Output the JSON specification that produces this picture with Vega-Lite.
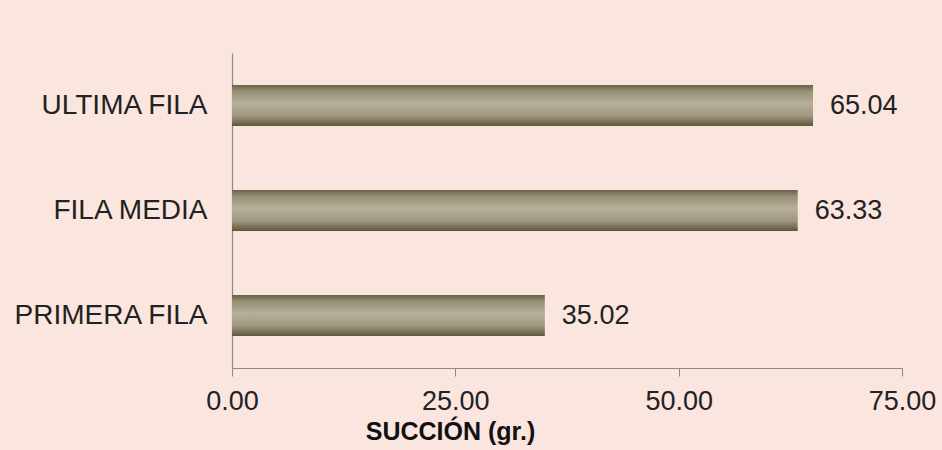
{
  "$schema": "https://vega.github.io/schema/vega-lite/v6.json",
  "width": 670,
  "height": 315,
  "autosize": {"type": "none"},
  "padding": {"left": 232, "top": 53, "right": 40, "bottom": 82},
  "background": "#FBE5DF",
  "config": {
    "view": {"stroke": null},
    "font": "Liberation Sans"
  },
  "data": {
    "values": [
      {"fila": "ULTIMA FILA", "succion": 65.04},
      {"fila": "FILA MEDIA", "succion": 63.33},
      {"fila": "PRIMERA FILA", "succion": 35.02}
    ]
  },
  "encoding": {
    "y": {
      "field": "fila",
      "type": "nominal",
      "sort": ["ULTIMA FILA", "FILA MEDIA", "PRIMERA FILA"],
      "scale": {"paddingInner": 0.61, "paddingOuter": 0.305},
      "axis": {
        "title": null,
        "ticks": false,
        "labelPadding": 25,
        "labelFontSize": 28,
        "labelLimit": 300,
        "labelColor": "#222222",
        "labelFont": "Liberation Sans",
        "domainColor": "#8a8a8a",
        "domainWidth": 1.2
      }
    },
    "x": {
      "field": "succion",
      "type": "quantitative",
      "scale": {"domain": [0, 75], "nice": false},
      "axis": {
        "values": [0, 25, 50, 75],
        "format": ".2f",
        "grid": false,
        "title": "SUCCIÓN (gr.)",
        "titleFontSize": 25,
        "titleFontWeight": "bold",
        "titleColor": "#111111",
        "titleFont": "Liberation Sans",
        "titlePadding": 5,
        "titleX": 218,
        "titleAlign": "center",
        "labelFontSize": 27,
        "labelColor": "#222222",
        "labelFont": "Liberation Sans",
        "labelPadding": 12,
        "tickSize": 8,
        "tickColor": "#8a8a8a",
        "domainColor": "#8a8a8a",
        "domainWidth": 1.2,
        "labelFlush": false
      }
    }
  },
  "layer": [
    {
      "mark": {
        "type": "bar",
        "color": {
          "gradient": "linear",
          "x1": 0, "y1": 0, "x2": 0, "y2": 1,
          "stops": [
            {"offset": 0, "color": "#6A6246"},
            {"offset": 0.15, "color": "#978F75"},
            {"offset": 0.45, "color": "#B5AF9C"},
            {"offset": 0.75, "color": "#A0987F"},
            {"offset": 1, "color": "#5F573B"}
          ]
        }
      }
    },
    {
      "mark": {
        "type": "text",
        "align": "left",
        "baseline": "middle",
        "dx": 17,
        "fontSize": 27,
        "color": "#222222",
        "font": "Liberation Sans"
      },
      "encoding": {
        "text": {"field": "succion", "type": "quantitative", "format": ".2f"}
      }
    }
  ]
}
